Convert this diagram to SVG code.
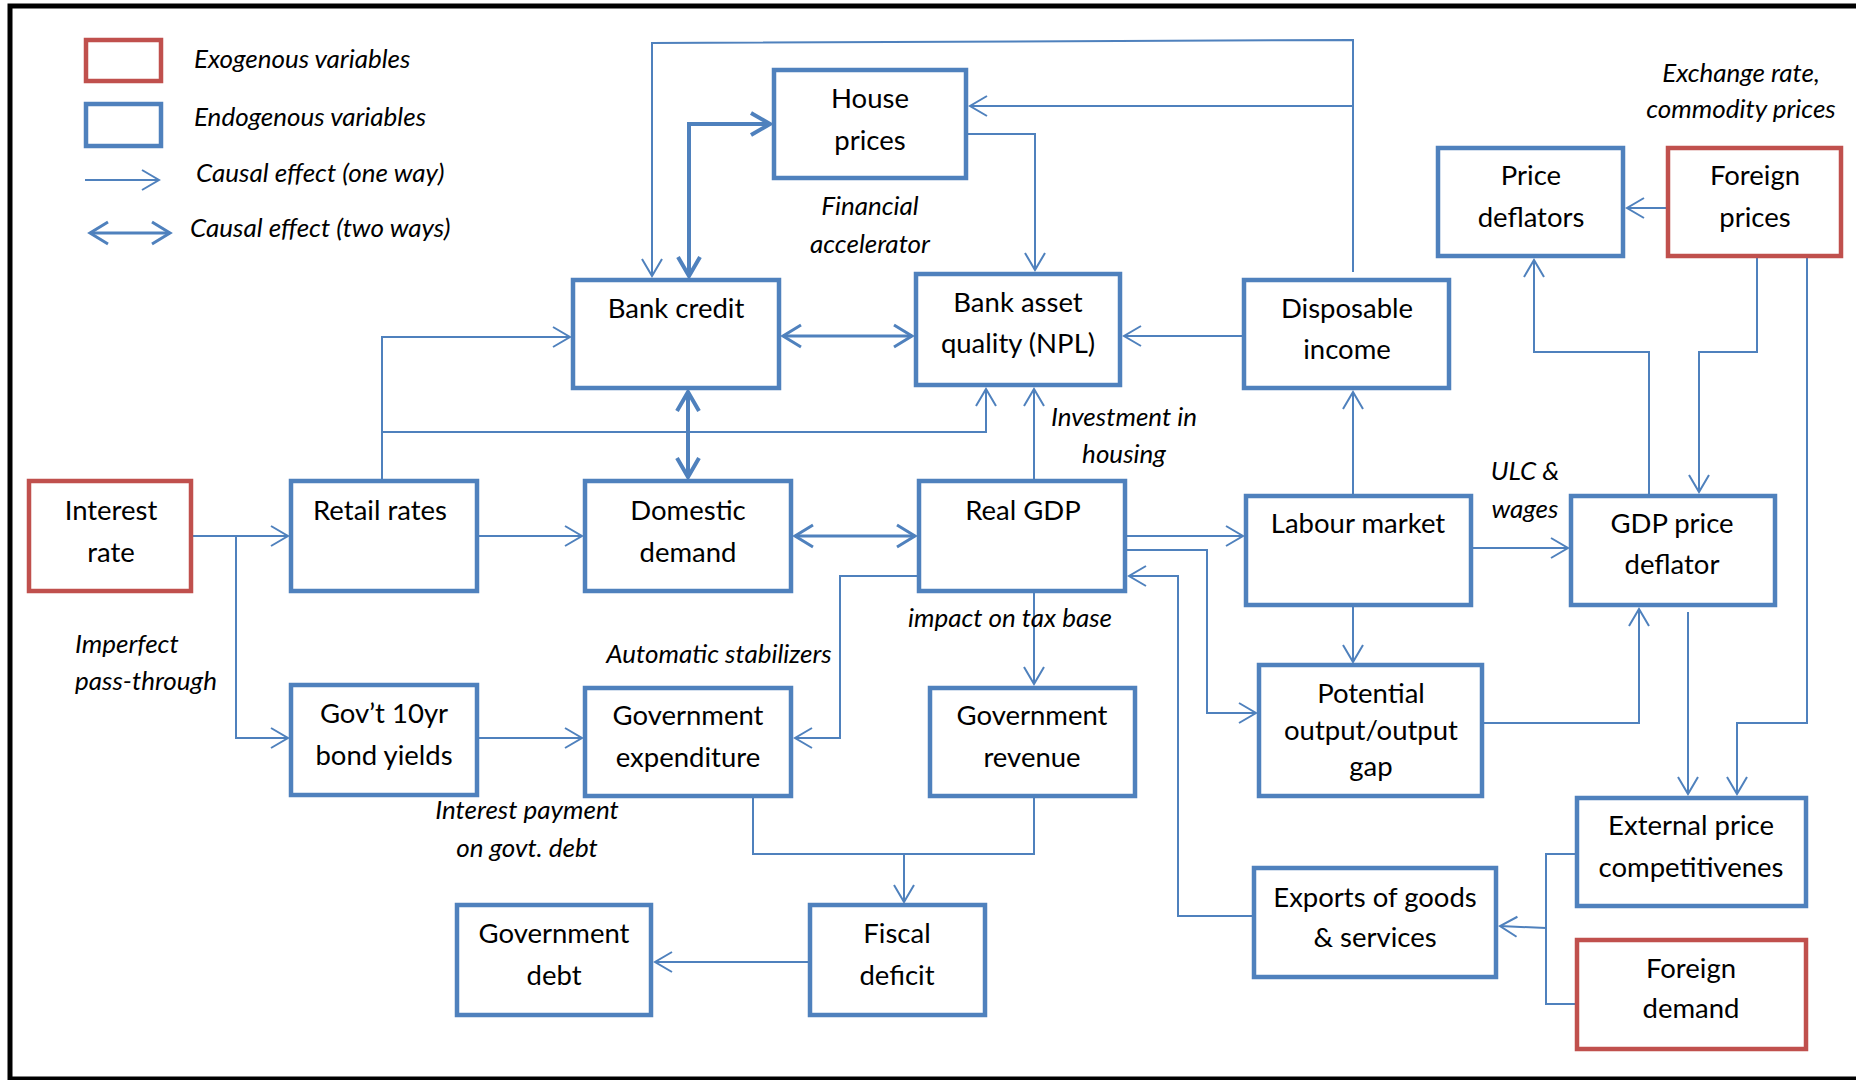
<svg xmlns="http://www.w3.org/2000/svg" width="1856" height="1080" viewBox="0 0 1856 1080">
<defs>
<style>
.box{fill:#fff;stroke:#4F81BD;stroke-width:4.5}
.exo{fill:#fff;stroke:#C0504D;stroke-width:4.5}
.t{font-family:Lato,"Liberation Sans",sans-serif;font-size:27.5px;fill:#000;text-anchor:middle}
.i{font-family:Lato,"Liberation Sans",sans-serif;font-size:26px;font-style:italic;fill:#000;text-anchor:middle}
.l{text-anchor:start}
.c{fill:none;stroke:#4F81BD;stroke-width:2}
.m{fill:none;stroke:#4F81BD;stroke-width:3}
.k{fill:none;stroke:#4F81BD;stroke-width:4}
.a{marker-end:url(#ah)}
.d3{marker-start:url(#am);marker-end:url(#am)}
.d4{marker-start:url(#ak);marker-end:url(#ak)}
</style>
<marker id="ah" markerUnits="userSpaceOnUse" viewBox="-20 -12 22 24" markerWidth="22" markerHeight="24" refX="0" refY="0" orient="auto" overflow="visible">
<path d="M-17,-10 L0,0 L-17,10" fill="none" stroke="#4F81BD" stroke-width="2"/>
</marker>
<marker id="am" markerUnits="userSpaceOnUse" viewBox="-22 -13 24 26" markerWidth="24" markerHeight="26" refX="0" refY="0" orient="auto-start-reverse" overflow="visible">
<path d="M-18,-11 L0,0 L-18,11" fill="none" stroke="#4F81BD" stroke-width="3"/>
</marker>
<marker id="ak" markerUnits="userSpaceOnUse" viewBox="-22 -13 24 26" markerWidth="24" markerHeight="26" refX="0" refY="0" orient="auto-start-reverse" overflow="visible">
<path d="M-19,-11 L0,0 L-19,11" fill="none" stroke="#4F81BD" stroke-width="4"/>
</marker>
</defs>
<rect width="1856" height="1080" fill="#fff"/>
<rect x="10" y="6" width="1870" height="1073" fill="none" stroke="#000" stroke-width="5"/>

<g id="legend">
<rect class="exo" x="86" y="40" width="75" height="41"/>
<rect class="box" x="86" y="104" width="75" height="42"/>
<path class="c a" d="M85,180 H159"/>
<path class="m d3" d="M90,233 H170"/>
<text class="i l" x="194" y="68">Exogenous variables</text>
<text class="i l" x="194" y="126">Endogenous variables</text>
<text class="i l" x="196" y="182">Causal effect (one way)</text>
<text class="i l" x="190" y="237">Causal effect (two ways)</text>
</g>

<g id="connectors">
<path class="c a" d="M193,536 H288"/>
<path class="c a" d="M236,536 V738 H288"/>
<path class="c a" d="M479,536 H582"/>
<path class="c a" d="M479,738 H582"/>
<path class="c a" d="M382,479 V337 H570"/>
<path class="c a" d="M382,432 H986 V389"/>
<path class="k d4" d="M688,392 V477"/>
<path class="k d4" d="M689,276 V124 H770"/>
<path class="c a" d="M1353,272 V40 L652,43 V276"/>
<path class="c a" d="M1353,106 H970"/>
<path class="c a" d="M968,134 H1035 V270"/>
<path class="m d3" d="M783,336 H912"/>
<path class="c a" d="M1242,336 H1124"/>
<path class="c a" d="M1034,479 V389"/>
<path class="m d3" d="M795,536 H915"/>
<path class="c a" d="M1127,536 H1243"/>
<path class="c a" d="M1127,550 H1207 V713 H1256"/>
<path class="c a" d="M1252,916 H1178 V576 H1129"/>
<path class="c a" d="M917,576 H840 V738 H795"/>
<path class="c a" d="M1034,593 V684"/>
<path class="c" d="M753,798 V854 H1034 V798"/>
<path class="c a" d="M904,854 V902"/>
<path class="c a" d="M808,962 H655"/>
<path class="c a" d="M1353,494 V392"/>
<path class="c a" d="M1353,607 V662"/>
<path class="c a" d="M1473,548 H1568"/>
<path class="c a" d="M1484,723 H1639 V609"/>
<path class="c a" d="M1688,612 V794"/>
<path class="c a" d="M1807,258 V723 H1737 V794"/>
<path class="c a" d="M1649,494 V352 H1534 V260"/>
<path class="c a" d="M1757,258 V352 H1699 V492"/>
<path class="c a" d="M1666,208 H1627"/>
<path class="c" d="M1575,854 H1546 V1004 H1575"/>
<path class="c a" d="M1546,928 L1500,926"/>
</g>

<g id="interest-rate"><rect class="exo" x="29" y="481" width="162" height="110"/><text class="t" x="111" y="520">Interest</text><text class="t" x="111" y="562">rate</text></g>
<g id="retail-rates"><rect class="box" x="291" y="481" width="186" height="110"/><text class="t" x="380" y="520">Retail rates</text></g>
<g id="gov-bond-yields"><rect class="box" x="291" y="685" width="186" height="110"/><text class="t" x="384" y="723">Gov’t 10yr</text><text class="t" x="384" y="765">bond yields</text></g>
<g id="domestic-demand"><rect class="box" x="585" y="481" width="206" height="110"/><text class="t" x="688" y="520">Domestic</text><text class="t" x="688" y="562">demand</text></g>
<g id="gov-expenditure"><rect class="box" x="585" y="688" width="206" height="108"/><text class="t" x="688" y="725">Government</text><text class="t" x="688" y="767">expenditure</text></g>
<g id="real-gdp"><rect class="box" x="919" y="481" width="206" height="110"/><text class="t" x="1023" y="520">Real GDP</text></g>
<g id="gov-revenue"><rect class="box" x="930" y="688" width="205" height="108"/><text class="t" x="1032" y="725">Government</text><text class="t" x="1032" y="767">revenue</text></g>
<g id="gov-debt"><rect class="box" x="457" y="905" width="194" height="110"/><text class="t" x="554" y="943">Government</text><text class="t" x="554" y="985">debt</text></g>
<g id="fiscal-deficit"><rect class="box" x="810" y="905" width="175" height="110"/><text class="t" x="897" y="943">Fiscal</text><text class="t" x="897" y="985">deficit</text></g>
<g id="house-prices"><rect class="box" x="774" y="70" width="192" height="108"/><text class="t" x="870" y="108">House</text><text class="t" x="870" y="150">prices</text></g>
<g id="bank-credit"><rect class="box" x="573" y="280" width="206" height="108"/><text class="t" x="676" y="318">Bank credit</text></g>
<g id="bank-asset"><rect class="box" x="916" y="274" width="204" height="111"/><text class="t" x="1018" y="312">Bank asset</text><text class="t" x="1018" y="353">quality (NPL)</text></g>
<g id="disposable-income"><rect class="box" x="1244" y="280" width="205" height="108"/><text class="t" x="1347" y="318">Disposable</text><text class="t" x="1347" y="359">income</text></g>
<g id="labour-market"><rect class="box" x="1246" y="496" width="225" height="109"/><text class="t" x="1358" y="533">Labour market</text></g>
<g id="potential-output"><rect class="box" x="1259" y="665" width="223" height="131"/><text class="t" x="1371" y="703">Potential</text><text class="t" x="1371" y="740">output/output</text><text class="t" x="1371" y="776">gap</text></g>
<g id="gdp-deflator"><rect class="box" x="1571" y="496" width="204" height="109"/><text class="t" x="1672" y="533">GDP price</text><text class="t" x="1672" y="574">deflator</text></g>
<g id="price-deflators"><rect class="box" x="1438" y="148" width="185" height="108"/><text class="t" x="1531" y="185">Price</text><text class="t" x="1531" y="227">deflators</text></g>
<g id="foreign-prices"><rect class="exo" x="1668" y="148" width="173" height="108"/><text class="t" x="1755" y="185">Foreign</text><text class="t" x="1755" y="227">prices</text></g>
<g id="external-price"><rect class="box" x="1577" y="798" width="229" height="108"/><text class="t" x="1691" y="835">External price</text><text class="t" x="1691" y="877">competitivenes</text></g>
<g id="foreign-demand"><rect class="exo" x="1577" y="940" width="229" height="109"/><text class="t" x="1691" y="978">Foreign</text><text class="t" x="1691" y="1018">demand</text></g>
<g id="exports"><rect class="box" x="1254" y="868" width="242" height="109"/><text class="t" x="1375" y="907">Exports of goods</text><text class="t" x="1375" y="947">&amp; services</text></g>

<g id="labels">
<text class="i" x="870" y="215">Financial</text>
<text class="i" x="870" y="253">accelerator</text>
<text class="i" x="1124" y="426">Investment in</text>
<text class="i" x="1124" y="463">housing</text>
<text class="i" x="1010" y="627">impact on tax base</text>
<text class="i" x="719" y="663">Automatic stabilizers</text>
<text class="i l" x="75" y="653">Imperfect</text>
<text class="i l" x="75" y="690">pass-through</text>
<text class="i" x="527" y="819">Interest payment</text>
<text class="i" x="527" y="857">on govt. debt</text>
<text class="i" x="1525" y="480">ULC &amp;</text>
<text class="i" x="1525" y="518">wages</text>
<text class="i" x="1741" y="82">Exchange rate,</text>
<text class="i" x="1741" y="118">commodity prices</text>
</g>
</svg>
